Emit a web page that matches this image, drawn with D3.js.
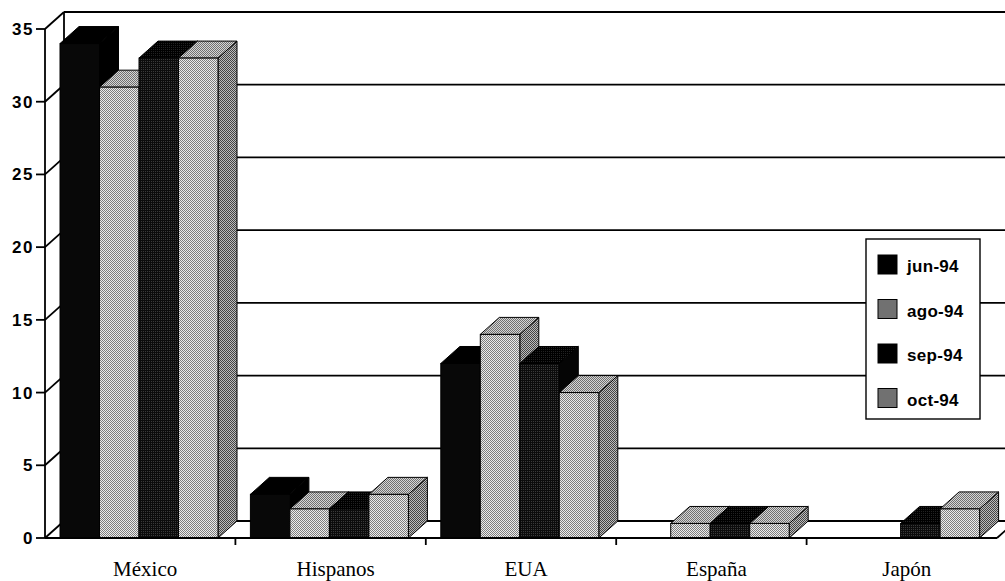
<!DOCTYPE html>
<html>
<head>
    <meta charset="utf-8">
    <title>3D column chart using d3.js</title>
    <script src="https://d3js.org/d3.v7.min.js"></script>
    <style>
        html, body { margin: 0; background: #fff; }
        svg { display: block; }
        .tickLabel { font-family: "Liberation Sans", Arial, sans-serif; font-weight: bold; font-size: 17px; letter-spacing: 1.5px; fill: #000; }
        .catLabel { font-family: "Liberation Serif", "Times New Roman", serif; font-size: 21px; fill: #000; }
        .legendLabel { font-family: "Liberation Sans", Arial, sans-serif; font-weight: bold; font-size: 17px; letter-spacing: 0.3px; fill: #000; }
        .frame { stroke: #000; stroke-width: 1.8px; fill: none; }
        .bar { stroke: #000; stroke-width: 1px; }
    </style>
</head>
<body>
    <svg width="1005" height="581"></svg>
    <script>
        // data
        var categories = ["México", "Hispanos", "EUA", "España", "Japón"];
        var series = ["jun-94", "ago-94", "sep-94", "oct-94"];
        var jun94 = [34, 3, 12, 0, 0];
        var ago94 = [31, 2, 14, 1, 0];
        var sep94 = [33, 2, 12, 1, 1];
        var oct94 = [33, 3, 10, 1, 2];
        var values = [jun94, ago94, sep94, oct94];
        var yTicks = [0, 5, 10, 15, 20, 25, 30, 35];

        var svg = d3.select("svg");
        var defs = svg.append("defs");

        // stipple patterns like the scanned print
        function stipple(id, base, dot, light) {
            var p = defs.append("pattern")
                .attr("id", id)
                .attr("patternUnits", "userSpaceOnUse")
                .attr("width", 2).attr("height", 2);
            p.append("rect").attr("width", 2).attr("height", 2).attr("fill", base);
            p.append("rect").attr("x", 0).attr("y", 0).attr("width", 1).attr("height", 1).attr("fill", dot);
            p.append("rect").attr("x", 1).attr("y", 1).attr("width", 1).attr("height", 1).attr("fill", light || dot);
        }
        stipple("lightFront", "#ececec", "#7e7e7e");
        stipple("lightTop", "#d6d6d6", "#707070");
        stipple("lightSide", "#bcbcbc", "#444");
        stipple("darkFront", "#0c0c0c", "#0c0c0c", "#3a3a3a");
        stipple("darkTop", "#000", "#000", "#222");
        stipple("legendGray", "#b8b8b8", "#2a2a2a");

        var faces = {
            "jun-94": { front: "#080808", top: "#000", side: "#000", legend: "#000" },
            "ago-94": { front: "url(#lightFront)", top: "url(#lightTop)", side: "url(#lightSide)", legend: "url(#legendGray)" },
            "sep-94": { front: "url(#darkFront)", top: "url(#darkTop)", side: "#050505", legend: "#000" },
            "oct-94": { front: "url(#lightFront)", top: "url(#lightTop)", side: "url(#lightSide)", legend: "url(#legendGray)" }
        };

        // oblique depth of the plot box
        var dx = 19, dy = -17;
        var x0 = 45, x1 = 997;

        var x = d3.scaleBand().domain(categories).range([x0, x1]);
        var xs = d3.scaleBand().domain(series).range([15, 173]);
        var y = d3.scaleLinear().domain([0, 35]).range([538, 29]);

        var frame = svg.append("g").attr("class", "frame");

        // back wall gridlines
        frame.selectAll("line.grid")
            .data(yTicks)
            .enter().append("line")
            .attr("x1", x0 + dx).attr("x2", x1 + dx)
            .attr("y1", d => y(d) + dy).attr("y2", d => y(d) + dy);

        // left wall
        frame.selectAll("line.side")
            .data(yTicks)
            .enter().append("line")
            .attr("x1", x0).attr("x2", x0 + dx)
            .attr("y1", d => y(d)).attr("y2", d => y(d) + dy);
        frame.append("line")
            .attr("x1", x0 + dx).attr("x2", x0 + dx)
            .attr("y1", y(35) + dy).attr("y2", y(0) + dy);

        // floor
        frame.append("line")
            .attr("x1", x1).attr("x2", x1 + dx)
            .attr("y1", y(0)).attr("y2", y(0) + dy);

        // bars, drawn left to right so the next front face hides the side
        var bars = svg.append("g");
        categories.forEach(function(c, ci) {
            series.forEach(function(s, si) {
                var v = values[si][ci];
                if (!v) return;
                var bx = x(c) + xs(s), bw = xs.bandwidth();
                var yv = y(v), yb = y(0);
                var f = faces[s];
                bars.append("polygon").attr("class", "bar")
                    .attr("fill", f.side)
                    .attr("points", [[bx + bw, yv], [bx + bw + dx, yv + dy], [bx + bw + dx, yb + dy], [bx + bw, yb]].join(" "));
                bars.append("polygon").attr("class", "bar")
                    .attr("fill", f.top)
                    .attr("points", [[bx, yv], [bx + dx, yv + dy], [bx + bw + dx, yv + dy], [bx + bw, yv]].join(" "));
                bars.append("rect").attr("class", "bar")
                    .attr("fill", f.front)
                    .attr("x", bx).attr("y", yv)
                    .attr("width", bw).attr("height", yb - yv);
            });
        });

        // front axes
        var axes = svg.append("g").attr("class", "frame");
        axes.append("line")
            .attr("x1", x0).attr("x2", x0)
            .attr("y1", y(35)).attr("y2", y(0));
        axes.append("line")
            .attr("x1", x0).attr("x2", x1)
            .attr("y1", y(0)).attr("y2", y(0));
        axes.selectAll("line.ytick")
            .data(yTicks)
            .enter().append("line")
            .attr("x1", x0 - 9).attr("x2", x0)
            .attr("y1", d => y(d)).attr("y2", d => y(d));
        axes.selectAll("line.xtick")
            .data(categories.slice(1))
            .enter().append("line")
            .attr("x1", d => x(d)).attr("x2", d => x(d))
            .attr("y1", y(0)).attr("y2", y(0) + 7);

        svg.append("g").selectAll("text")
            .data(yTicks)
            .enter().append("text")
            .attr("class", "tickLabel")
            .attr("x", 34)
            .attr("y", d => y(d) + 6)
            .attr("text-anchor", "end")
            .text(d => d);

        svg.append("g").selectAll("text")
            .data(categories)
            .enter().append("text")
            .attr("class", "catLabel")
            .attr("x", d => x(d) + x.bandwidth() / 2 + 5)
            .attr("y", 576)
            .attr("text-anchor", "middle")
            .text(d => d);

        // legend
        var legend = svg.append("g").attr("transform", "translate(866,239)");
        legend.append("rect")
            .attr("width", 114).attr("height", 180)
            .attr("fill", "#fff").attr("stroke", "#000").attr("stroke-width", 1.4);
        var item = legend.selectAll("g")
            .data(series)
            .enter().append("g")
            .attr("transform", (d, i) => "translate(12," + (16 + i * 44.5) + ")");
        item.append("rect")
            .attr("width", 19).attr("height", 19)
            .attr("fill", d => faces[d].legend)
            .attr("stroke", "#000");
        item.append("text")
            .attr("class", "legendLabel")
            .attr("x", 29).attr("y", 17)
            .text(d => d);
    </script>
</body>
</html>
